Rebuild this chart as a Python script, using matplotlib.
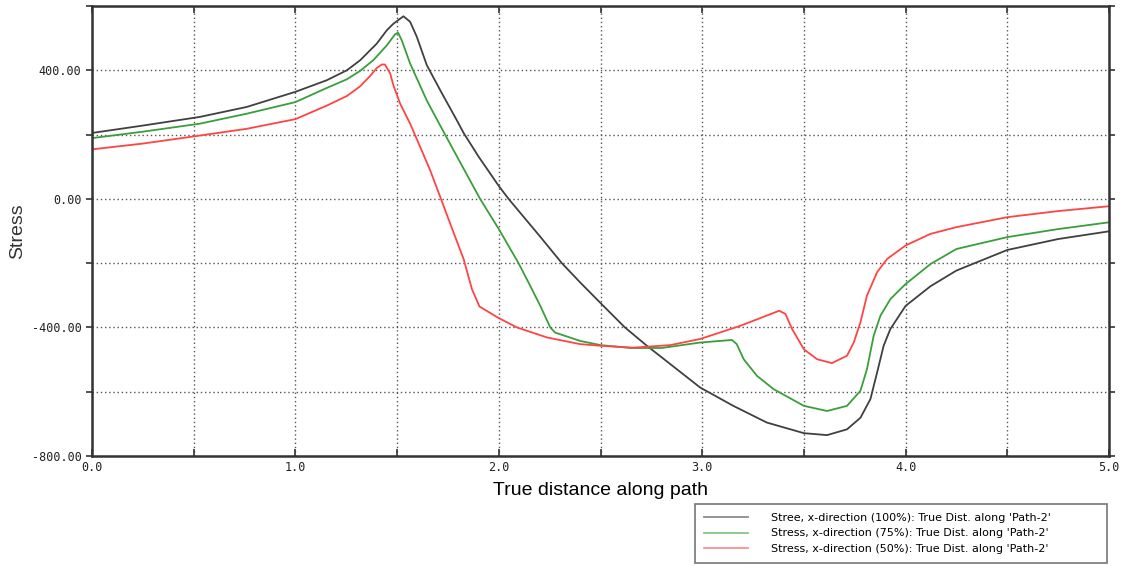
import matplotlib
matplotlib.use("Agg")
import matplotlib.pyplot as plt
from matplotlib.ticker import MultipleLocator, FuncFormatter

# Stress along path
x_100 = [0.0, 0.25, 0.531, 0.761, 1.0, 1.154, 1.253, 1.318, 1.40, 1.45, 1.482, 1.531,
         1.564, 1.597, 1.646, 1.712, 1.794, 1.827, 1.90, 2.0, 2.048, 2.204, 2.31, 2.4,
         2.5, 2.62, 2.728, 2.843, 2.99, 3.153, 3.318, 3.5, 3.614, 3.712, 3.778, 3.827,
         3.86, 3.892, 3.925, 3.974, 4.0, 4.122, 4.25, 4.5, 4.75, 5.0]
s_100 = [205, 228, 255, 286, 333, 369, 400, 431, 483, 525, 545, 568,
         551, 504, 416, 338, 244, 205, 132, 40, 0, -118, -200, -260,
         -324, -400, -457, -514, -587, -644, -696, -729, -735, -717, -681, -623,
         -540, -457, -405, -358, -333, -272, -223, -159, -125, -101]

x_75 = [0.0, 0.25, 0.531, 0.761, 1.0, 1.154, 1.253, 1.318, 1.384, 1.45, 1.49, 1.505,
        1.523, 1.564, 1.646, 1.712, 1.777, 1.908, 2.0, 2.097, 2.154, 2.204, 2.253, 2.277,
        2.4, 2.5, 2.65, 2.8, 2.99, 3.146, 3.17, 3.204, 3.27, 3.351, 3.5, 3.614, 3.712,
        3.778, 3.81, 3.843, 3.876, 3.925, 3.974, 4.0, 4.122, 4.25, 4.5, 4.75, 5.0]
s_75 = [189, 209, 234, 265, 301, 345, 372, 398, 432, 478, 512, 517,
        493, 421, 306, 228, 152, 0, -94, -200, -270, -333, -400, -416,
        -442, -455, -464, -464, -447, -439, -452, -499, -551, -592, -644, -660, -644,
        -597, -530, -426, -364, -312, -281, -265, -203, -156, -119, -94, -73]

x_50 = [0.0, 0.25, 0.531, 0.761, 1.0, 1.154, 1.253, 1.318, 1.367, 1.40, 1.425, 1.44,
        1.466, 1.482, 1.515, 1.564, 1.62, 1.663, 1.712, 1.777, 1.827, 1.868, 1.905, 2.0,
        2.089, 2.236, 2.4, 2.5, 2.66, 2.843, 2.99, 3.187, 3.379, 3.409, 3.442, 3.5,
        3.565, 3.638, 3.712, 3.745, 3.778, 3.81, 3.86, 3.909, 4.0, 4.122, 4.25, 4.5,
        4.75, 5.0]
s_50 = [154, 172, 197, 218, 248, 290, 320, 350, 382, 407, 418, 418,
        390, 353, 296, 234, 152, 88, 6, -104, -187, -281, -335, -371,
        -400, -431, -452, -457, -463, -455, -436, -395, -348, -358, -405, -468,
        -499, -511, -488, -447, -384, -301, -228, -187, -145, -109, -88, -57,
        -38, -23]

labels = ["Stree, x-direction (100%): True Dist. along 'Path-2'",
          "Stress, x-direction (75%): True Dist. along 'Path-2'",
          "Stress, x-direction (50%): True Dist. along 'Path-2'"]
colors = ["#404040", "#3a9e3a", "#ff4444"]

fig = plt.figure(figsize=(11.21, 5.66), dpi=100)
ax = fig.add_axes([92 / 1121, 1 - 456 / 566, (1109 - 92) / 1121, (456 - 6) / 566])

lines = []
for xs, ys, c in zip([x_100, x_75, x_50], [s_100, s_75, s_50], colors):
    ln, = ax.plot(xs, ys, color=c, lw=1.3)
    lines.append(ln)

ax.set_xlim(0, 5.0)
ax.set_ylim(-800, 600)
ax.xaxis.set_major_locator(MultipleLocator(0.5))
ax.yaxis.set_major_locator(MultipleLocator(200))
ax.xaxis.set_major_formatter(FuncFormatter(lambda v, p: f"{v:.1f}" if abs(v - round(v)) < 1e-6 else ""))
ax.yaxis.set_major_formatter(FuncFormatter(lambda v, p: f"{v:.2f}" if round(v) % 400 == 0 else ""))

ax.grid(True, color="#555555", linestyle=(0, (1, 2)), linewidth=1.0)
for sp in ax.spines.values():
    sp.set_color("#333333")
    sp.set_linewidth(1.8)

mono = "DejaVu Sans Mono"
ax.tick_params(axis="y", direction="out", length=4, width=1.2, labelsize=8.5, colors="#333333")
ax.tick_params(axis="x", direction="in", length=5, width=1.2, labelsize=8.5, colors="#333333", top=True)
ax.tick_params(axis="y", which="major", right=True)
for t in ax.get_xticklabels() + ax.get_yticklabels():
    t.set_fontfamily(mono)
    t.set_color("#222222")

ax.set_xlabel("True distance along path", fontsize=14, family="Liberation Sans", labelpad=6)
ax.set_ylabel("Stress", fontsize=14, family="Liberation Sans", color="#333333", labelpad=4)

leg = fig.legend(lines, labels, loc="upper left",
                 bbox_to_anchor=(695 / 1121, 1 - 504 / 566, (1107 - 695) / 1121, 0),
                 mode="expand", fontsize=8, handlelength=4.0, handletextpad=2.0,
                 borderpad=0.8, labelspacing=0.5, borderaxespad=0, fancybox=False,
                 edgecolor="#777777", framealpha=1)
leg.get_frame().set_linewidth(1.2)
for h in leg.legend_handles:
    h.set_alpha(0.6)

fig.savefig("out.png", dpi=100)
